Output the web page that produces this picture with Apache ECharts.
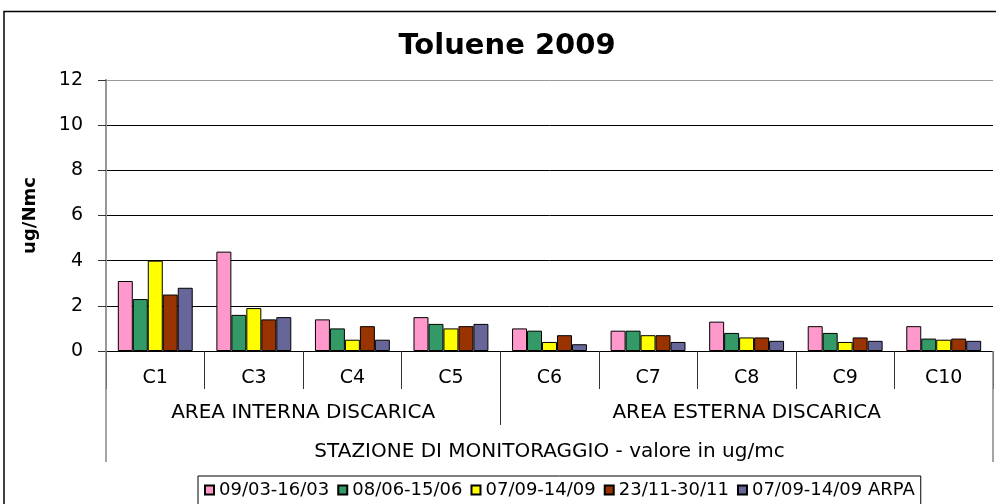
<!DOCTYPE html>
<html>
<head>
<meta charset="utf-8">
<script src="https://cdn.jsdelivr.net/npm/echarts@6/dist/echarts.min.js"></script>
<style>
html,body{margin:0;padding:0;background:#fff;overflow:hidden;}
#chart{width:996px;height:504px;}
</style>
</head>
<body>
<div id="chart"></div>
<script>
const titleText = 'Toluene 2009';
const categories = ['C1','C3','C4','C5','C6','C7','C8','C9','C10'];
const groupLabels = ['AREA INTERNA DISCARICA','AREA ESTERNA DISCARICA'];
const groupSizes = [4,5];
const axisTitle = 'STAZIONE DI MONITORAGGIO - valore in ug/mc';
const yName = 'ug/Nmc';
const yTicks = [0,2,4,6,8,10,12];
const seriesNames = ['09/03-16/03','08/06-15/06','07/09-14/09','23/11-30/11','07/09-14/09 ARPA'];
const s1 = [3.1,4.4,1.4,1.5,1.0,0.9,1.3,1.1,1.1];
const s2 = [2.3,1.6,1.0,1.2,0.9,0.9,0.8,0.8,0.55];
const s3 = [4.0,1.9,0.5,1.0,0.4,0.7,0.6,0.4,0.5];
const s4 = [2.5,1.4,1.1,1.1,0.7,0.7,0.6,0.6,0.55];
const s5 = [2.8,1.5,0.5,1.2,0.3,0.4,0.45,0.45,0.45];
const seriesData = [s1,s2,s3,s4,s5];
const colors = ['#FF99CC','#339966','#FFFF00','#993300','#666699'];

// group boundaries and centres (in category units)
const bounds = [0];
groupSizes.forEach(n => bounds.push(bounds[bounds.length-1] + n));
const centres = groupSizes.map((n,i) => bounds[i] + n/2);
const nCat = categories.length;

const FONT = 'DejaVu Sans';
const chart = echarts.init(document.getElementById('chart'), null, {renderer:'canvas'});
const option = {
  backgroundColor:'#fff',
  textStyle:{fontFamily:FONT, color:'#000'},
  animation:false,
  title:{
    text:titleText, left:507, top:32, padding:0, textAlign:'center',
    textStyle:{fontFamily:FONT, fontSize:29, fontWeight:'bold', color:'#000'}
  },
  graphic:[{
    type:'rect', left:1.5, top:9, silent:true,
    shape:{x:0,y:0,width:1100,height:600},
    style:{fill:'none', stroke:'#000', lineWidth:1.5}, z:-1
  }],
  legend:{
    left:198, top:476, orient:'horizontal',
    padding:[5,6,8,6], itemGap:8, itemWidth:9, itemHeight:9,
    borderColor:'#000', borderWidth:1, icon:'rect',
    textStyle:{fontFamily:FONT, fontSize:18, color:'#000'},
    data:seriesNames
  },
  grid:{left:106, right:3, top:80, bottom:153},
  xAxis:[{
    type:'category', data:categories, position:'bottom',
    axisLine:{show:true, lineStyle:{color:'#000', width:1}},
    axisTick:{show:true, interval:0, length:38, lineStyle:{color:'#333', width:1}},
    axisLabel:{interval:0, margin:27, verticalAlign:'middle', fontFamily:FONT, fontSize:19, color:'#000'},
    name:axisTitle, nameLocation:'middle', nameGap:101,
    nameTextStyle:{fontFamily:FONT, fontSize:20, color:'#000', verticalAlign:'middle'}
  },{
    type:'value', min:0, max:nCat, position:'bottom',
    axisLine:{show:false},
    axisTick:{show:true, customValues:bounds.slice(1, -1), length:74, lineStyle:{color:'#333', width:1}},
    axisLabel:{show:true, customValues:centres, margin:62, verticalAlign:'middle',
      fontFamily:FONT, fontSize:20, color:'#000',
      formatter:function(v){ const i = centres.indexOf(v); return i>=0 ? groupLabels[i] : ''; }},
    splitLine:{show:false}
  },{
    type:'value', min:0, max:nCat, position:'bottom',
    axisLine:{show:false},
    axisTick:{show:true, customValues:[0,nCat], length:111, lineStyle:{color:'#888', width:1.5}},
    axisLabel:{show:false},
    splitLine:{show:false}
  }],
  yAxis:[{
    type:'value', min:yTicks[0], max:yTicks[yTicks.length-1], interval:2,
    axisLine:{show:true, lineStyle:{color:'#777', width:1.5}},
    axisTick:{show:true, inside:false, length:8, lineStyle:{color:'#333', width:1}},
    axisLabel:{margin:23, fontFamily:FONT, fontSize:19, color:'#000'},
    splitLine:{show:true, lineStyle:{color:['#000','#000','#000','#000','#000','#000','#999'], width:1}},
    name:yName, nameLocation:'middle', nameRotate:90, nameGap:76,
    nameTextStyle:{fontFamily:FONT, fontSize:18, fontWeight:'bold', color:'#000', verticalAlign:'middle'}
  },{
    type:'value', min:yTicks[0], max:yTicks[yTicks.length-1], position:'right',
    axisLine:{show:true, lineStyle:{color:'#999', width:2}},
    axisTick:{show:false}, axisLabel:{show:false}, splitLine:{show:false}
  }],
  series: seriesNames.map((name,i) => ({
    name:name, type:'bar', data:seriesData[i],
    barCategoryGap:'24%', barGap:'0%',
    itemStyle:{color:colors[i], borderColor:'#000', borderWidth:1}
  }))
};
chart.setOption(option);
</script>
</body>
</html>
